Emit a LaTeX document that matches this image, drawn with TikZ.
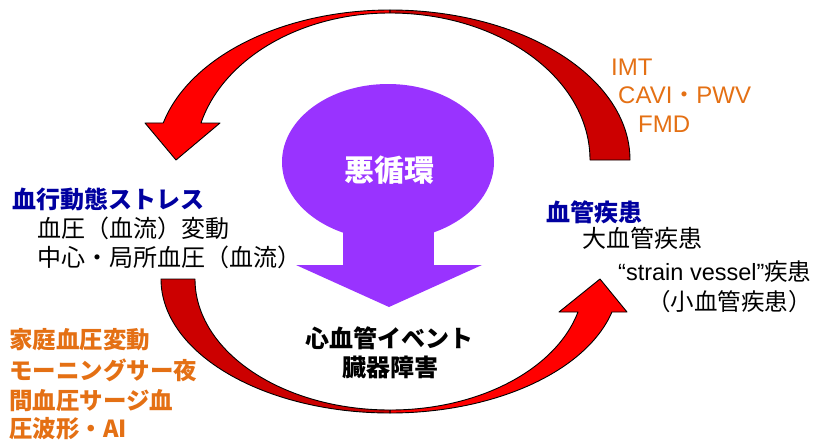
\documentclass[tikz,border=0pt]{standalone}
\usepackage{fontspec}
\setmainfont{Liberation Sans}
\newfontfamily\jp{Noto Sans CJK JP}
\definecolor{darkred}{RGB}{204,0,0}
\definecolor{brightred}{RGB}{255,0,0}
\definecolor{vpurple}{RGB}{153,51,255}
\definecolor{navyblue}{RGB}{0,0,160}
\definecolor{orng}{RGB}{228,112,20}
\newcommand{\myfs}[1]{\fontsize{#1}{#1}\selectfont}
\begin{document}
\begin{tikzpicture}[x=1pt,y=-1pt,
  txt/.style={inner sep=0pt, anchor=base west},
  ctxt/.style={inner sep=0pt, anchor=base},
  ribbon/.style={draw=black, line width=0.9pt, line join=round}]
\useasboundingbox (0,0) rectangle (813,439);

% purple "vicious circle" balloon arrow
\fill[vpurple] (388,162) ellipse[x radius=106pt, y radius=78pt];
\fill[vpurple] (343,225) rectangle (434,266);
\fill[vpurple] (296,265) -- (482,265) -- (389,307) -- cycle;
\node[ctxt, text=white] (vc) at (389,181) {\jp\bfseries\myfs{30}悪循環};

% top curved arrow: back (dark) part
\draw[ribbon, fill=darkred] (630,160)
  arc[start angle=0, end angle=90, x radius=240pt, y radius=150pt]
  -- (390,13)
  arc[start angle=90, end angle=0, x radius=200pt, y radius=147pt]
  -- cycle;
% top curved arrow: front (bright) part with head
\draw[ribbon, fill=brightred] (390,10)
  arc[start angle=90, end angle=165.7, x radius=234pt, y radius=150pt]
  -- (145,123) -- (176,160) -- (220,123) -- (201,123)
  arc[start angle=165.42, end angle=90, x radius=195pt, y radius=147pt]
  -- cycle;

% bottom curved arrow: back (dark) part
\draw[ribbon, fill=darkred] (161,279)
  arc[start angle=180, end angle=270, x radius=229pt, y radius=134pt]
  -- (390,410)
  arc[start angle=270, end angle=180, x radius=195pt, y radius=131pt]
  -- cycle;
% bottom curved arrow: front (bright) part with head
\draw[ribbon, fill=brightred] (390,413)
  arc[start angle=270, end angle=345.74, x radius=229pt, y radius=134pt]
  -- (627,312) -- (600,279) -- (559,312) -- (578,312)
  arc[start angle=345.41, end angle=270, x radius=194pt, y radius=131pt]
  -- cycle;

% orange measures (top right)
\node[txt, text=orng] (imt) at (611,75) {\myfs{24}IMT};
\node[txt, text=orng] (cavi) at (618,103) {\myfs{24}CAVI{\jp ・}PWV};
\node[txt, text=orng] (fmd) at (638,132) {\myfs{24}FMD};

% left block
\node[txt, text=navyblue] (hs) at (12,208) {\jp\bfseries\myfs{24}血行動態ストレス};
\node[txt] (bp1) at (37,237) {\jp\myfs{24}血圧（血流）変動};
\node[txt] (bp2) at (37,266) {\jp\myfs{24}中心・局所血圧（血流）};

% right block
\node[txt, text=navyblue] (vd) at (546,221) {\jp\bfseries\myfs{24}血管疾患};
\node[txt] (vd1) at (582,247) {\jp\myfs{24}大血管疾患};
\node[txt] (vd2) at (618,280) {\myfs{23.5}“strain vessel”{\jp 疾患}};
\node[txt] (vd3) at (647,310) {\jp\myfs{23.5}（小血管疾患）};

% bottom left orange block
\node[txt, text=orng] (o1) at (9,348) {\jp\bfseries\myfs{23.5}家庭血圧変動};
\node[txt, text=orng] (o2) at (9,379) {\jp\bfseries\myfs{23.5}モーニングサー夜};
\node[txt, text=orng] (o3) at (9,409) {\jp\bfseries\myfs{23.5}間血圧サージ血};
\node[txt, text=orng] (o4) at (9,437) {\jp\bfseries\myfs{23.5}圧波形・AI};

% bottom centre
\node[ctxt] (ev) at (389,347) {\jp\bfseries\myfs{24}心血管イベント};
\node[ctxt] (od) at (390,376) {\jp\bfseries\myfs{24}臓器障害};
\end{tikzpicture}
\end{document}
